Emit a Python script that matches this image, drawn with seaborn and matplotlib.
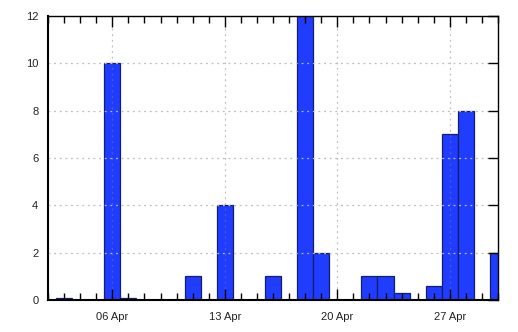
import matplotlib
matplotlib.use("Agg")
import matplotlib.pyplot as plt
import matplotlib.dates as mdates
import seaborn as sns
import pandas as pd
import numpy as np

days = ["2014-04-03", "2014-04-06", "2014-04-07", "2014-04-11", "2014-04-13",
        "2014-04-16", "2014-04-18", "2014-04-19", "2014-04-22", "2014-04-23",
        "2014-04-24", "2014-04-26", "2014-04-27", "2014-04-28", "2014-04-30"]
values = [0.1, 10, 0.1, 1, 4, 1, 12, 2, 1, 1, 0.3, 0.6, 7, 8, 2]
major_ticks = ["2014-04-06", "2014-04-13", "2014-04-20", "2014-04-27"]

sns.set_theme(style="white")
plt.rcParams['font.family'] = ['Liberation Sans', 'DejaVu Sans']

df = pd.DataFrame({"day": mdates.date2num(pd.to_datetime(days)), "value": values})

fig = plt.figure(figsize=(5.18, 3.32), dpi=100)
ax = fig.add_axes([48/518, 32/332, 450/518, 284/332])

sns.histplot(data=df, x="day", weights="value", discrete=True, shrink=1,
             color="#1f3cff", alpha=1, edgecolor="#14206e", linewidth=0.9, ax=ax,
             zorder=2)

x0 = mdates.date2num(pd.Timestamp("2014-04-02"))
x1 = mdates.date2num(pd.Timestamp("2014-04-30"))
ax.set_xlim(x0, x1)
ax.set_ylim(0, 12)
ax.set_xlabel("")
ax.set_ylabel("")

ax.set_xticks(mdates.date2num(pd.to_datetime(major_ticks)))
ax.xaxis.set_major_formatter(mdates.DateFormatter("%d %b"))
ax.xaxis.set_minor_locator(mdates.DayLocator())
ax.set_yticks(np.arange(0, 13, 2))

for s in ax.spines.values():
    s.set_color("black")
    s.set_linewidth(1.0)
    s.set_zorder(5)
ax.spines['left'].set_linewidth(1.5)
ax.spines['bottom'].set_linewidth(1.5)

ax.tick_params(axis='x', which='major', direction='in', length=8, width=1,
               top=True, bottom=True, labelsize=8, labelcolor="#222222", pad=9, color="black")
ax.tick_params(axis='x', which='minor', direction='in', length=5, width=1,
               top=True, bottom=True, color="black")
ax.tick_params(axis='y', which='major', direction='in', length=7, width=1,
               left=False, right=True, labelsize=8, labelcolor="#222222", pad=7, color="black")

ax.grid(True, which='major', axis='both', linestyle=(0, (1.5, 3)), color="#bdbdbd", linewidth=0.9)
ax.set_axisbelow(False)
for line in ax.get_xgridlines():
    line.set_zorder(3)
    line.set_color("#808080")
    line.set_alpha(0.5)
for line in ax.get_ygridlines():
    line.set_zorder(1)

fig.savefig("out.png", dpi=100)
